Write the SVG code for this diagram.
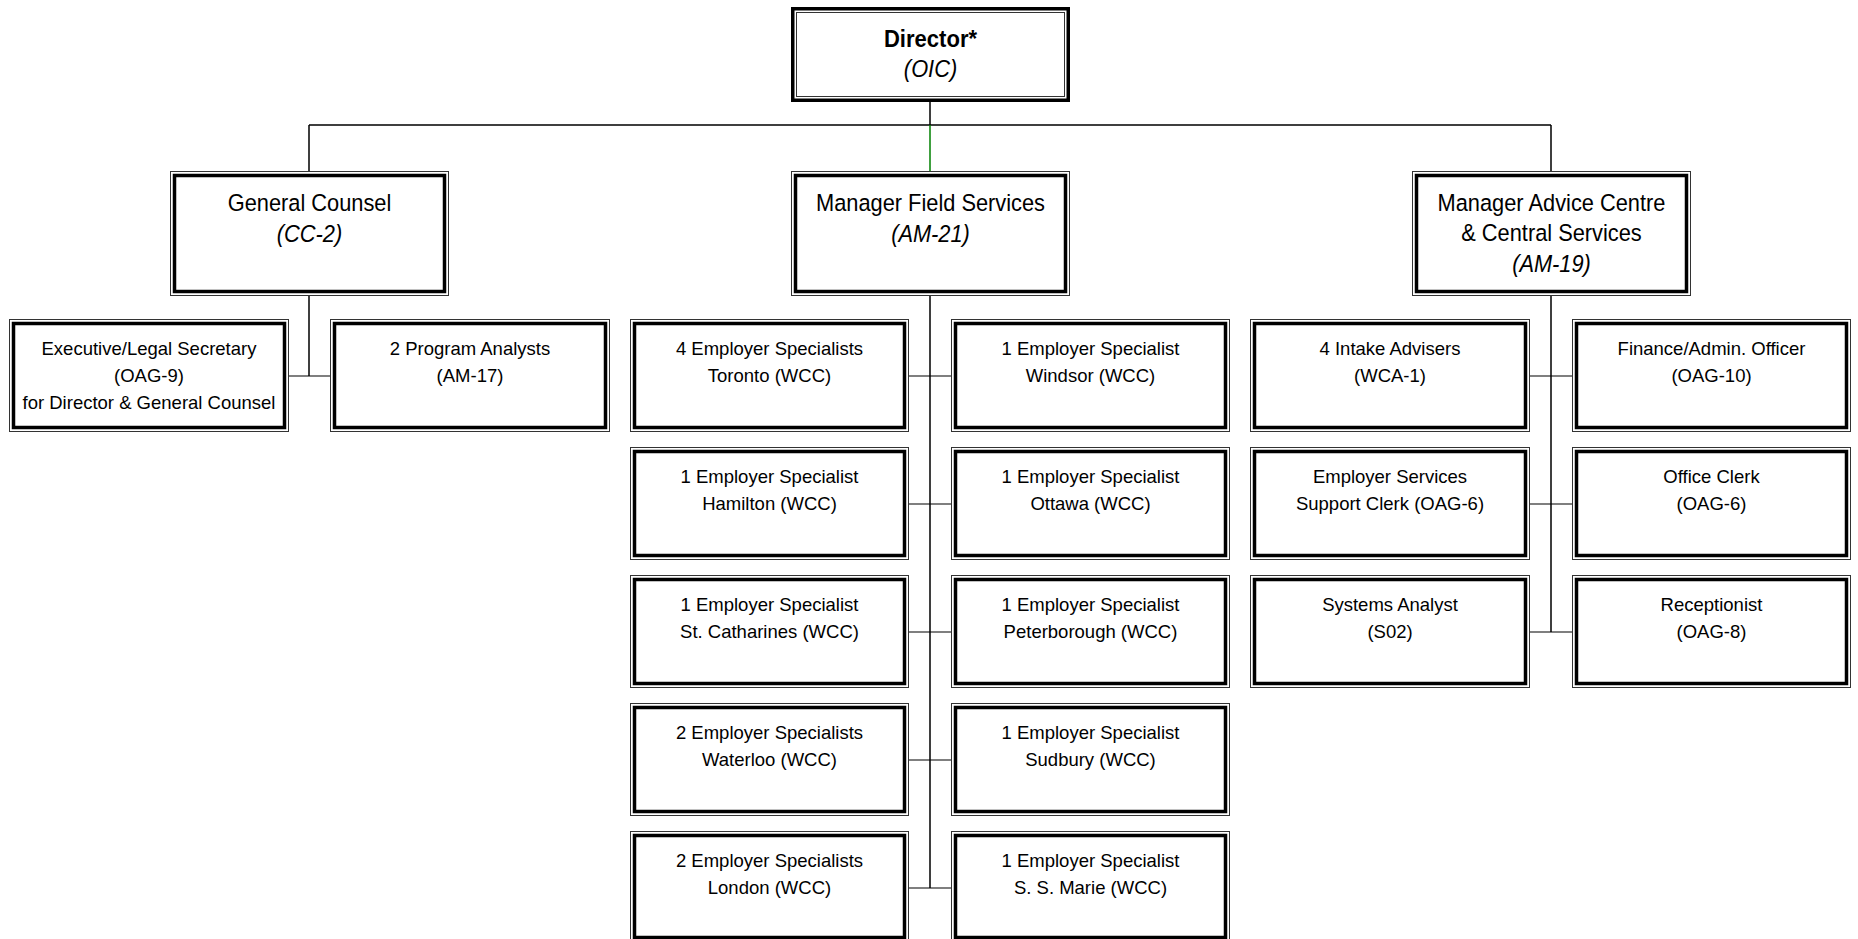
<svg xmlns="http://www.w3.org/2000/svg" width="1858" height="939" viewBox="0 0 1858 939">
<style>
.o{fill:none;stroke:#333;stroke-width:1}
.i{fill:none;stroke:#000;stroke-width:3.5}
.dO{fill:none;stroke:#000;stroke-width:3.5}
.dI{fill:none;stroke:#333;stroke-width:1}
.bg{fill:#fff;stroke:none}
text{font-family:"Liberation Sans",Arial,sans-serif;fill:#000;text-anchor:middle}
.t2{font-size:24.5px}
.t3{font-size:18.5px}
.b{font-weight:bold}
.it{font-style:italic}
.c{fill:none;stroke:#000;stroke-width:1.5}
.j{fill:none;stroke:#000;stroke-width:1.2}
.g{fill:none;stroke:#008000;stroke-width:1.5}
</style>
<rect width="1858" height="939" fill="#fff"/>
<g id="connectors">
<path class="c" d="M930 102V125M309 125H1551M309 125V171M1551 125V171"/>
<path class="g" d="M930 125V171"/>
<path class="c" d="M309 296V376M930 296V888M1551 296V632"/>
<path class="j" d="M289 376H330M909 376H951M909 504H951M909 632H951M909 760H951M909 888H951M1530 376H1572M1530 504H1572M1530 632H1572"/>
</g>
<g id="director">
<rect class="bg" x="791" y="7" width="279" height="95"/>
<rect class="dO" x="792.75" y="8.75" width="275.5" height="91.5"/>
<rect class="dI" x="796.5" y="12.5" width="268" height="84"/>
<text class="t2 b" transform="translate(930.5 0) scale(0.9 1)" y="47">Director*</text>
<text class="t2 it" transform="translate(930.5 0) scale(0.89 1)" y="77">(OIC)</text>
</g>
<g id="general-counsel">
<rect class="o" x="170.5" y="171.5" width="278" height="124"/>
<rect class="i" x="174.5" y="175.5" width="270" height="116"/>
<text class="t2" transform="translate(309.5 0) scale(0.89 1)" y="211">General Counsel</text>
<text class="t2 it" transform="translate(309.5 0) scale(0.89 1)" y="242">(CC-2)</text>
</g>
<g id="manager-field-services">
<rect class="o" x="791.5" y="171.5" width="278" height="124"/>
<rect class="i" x="795.5" y="175.5" width="270" height="116"/>
<text class="t2" transform="translate(930.5 0) scale(0.89 1)" y="211">Manager Field Services</text>
<text class="t2 it" transform="translate(930.5 0) scale(0.89 1)" y="242">(AM-21)</text>
</g>
<g id="manager-advice-centre">
<rect class="o" x="1412.5" y="171.5" width="278" height="124"/>
<rect class="i" x="1416.5" y="175.5" width="270" height="116"/>
<text class="t2" transform="translate(1551.5 0) scale(0.89 1)" y="211">Manager Advice Centre</text>
<text class="t2" transform="translate(1551.5 0) scale(0.89 1)" y="241.5">&amp; Central Services</text>
<text class="t2 it" transform="translate(1551.5 0) scale(0.89 1)" y="272">(AM-19)</text>
</g>
<g id="exec-legal-secretary">
<rect class="o" x="9.5" y="319.5" width="279" height="112"/>
<rect class="i" x="13.5" y="323.5" width="271" height="104"/>
<text class="t3" x="149" y="355">Executive/Legal Secretary</text>
<text class="t3" x="149" y="382">(OAG-9)</text>
<text class="t3" x="149" y="409">for Director &amp; General Counsel</text>
</g>
<g id="program-analysts">
<rect class="o" x="330.5" y="319.5" width="279" height="112"/>
<rect class="i" x="334.5" y="323.5" width="271" height="104"/>
<text class="t3" x="470" y="355">2 Program Analysts</text>
<text class="t3" x="470" y="382">(AM-17)</text>
</g>
<g id="toronto">
<rect class="o" x="630.5" y="319.5" width="278" height="112"/>
<rect class="i" x="634.5" y="323.5" width="270" height="104"/>
<text class="t3" x="769.5" y="355">4 Employer Specialists</text>
<text class="t3" x="769.5" y="382">Toronto (WCC)</text>
</g>
<g id="windsor">
<rect class="o" x="951.5" y="319.5" width="278" height="112"/>
<rect class="i" x="955.5" y="323.5" width="270" height="104"/>
<text class="t3" x="1090.5" y="355">1 Employer Specialist</text>
<text class="t3" x="1090.5" y="382">Windsor (WCC)</text>
</g>
<g id="hamilton">
<rect class="o" x="630.5" y="447.5" width="278" height="112"/>
<rect class="i" x="634.5" y="451.5" width="270" height="104"/>
<text class="t3" x="769.5" y="483">1 Employer Specialist</text>
<text class="t3" x="769.5" y="510">Hamilton (WCC)</text>
</g>
<g id="ottawa">
<rect class="o" x="951.5" y="447.5" width="278" height="112"/>
<rect class="i" x="955.5" y="451.5" width="270" height="104"/>
<text class="t3" x="1090.5" y="483">1 Employer Specialist</text>
<text class="t3" x="1090.5" y="510">Ottawa (WCC)</text>
</g>
<g id="st-catharines">
<rect class="o" x="630.5" y="575.5" width="278" height="112"/>
<rect class="i" x="634.5" y="579.5" width="270" height="104"/>
<text class="t3" x="769.5" y="611">1 Employer Specialist</text>
<text class="t3" x="769.5" y="638">St. Catharines (WCC)</text>
</g>
<g id="peterborough">
<rect class="o" x="951.5" y="575.5" width="278" height="112"/>
<rect class="i" x="955.5" y="579.5" width="270" height="104"/>
<text class="t3" x="1090.5" y="611">1 Employer Specialist</text>
<text class="t3" x="1090.5" y="638">Peterborough (WCC)</text>
</g>
<g id="waterloo">
<rect class="o" x="630.5" y="703.5" width="278" height="112"/>
<rect class="i" x="634.5" y="707.5" width="270" height="104"/>
<text class="t3" x="769.5" y="739">2 Employer Specialists</text>
<text class="t3" x="769.5" y="766">Waterloo (WCC)</text>
</g>
<g id="sudbury">
<rect class="o" x="951.5" y="703.5" width="278" height="112"/>
<rect class="i" x="955.5" y="707.5" width="270" height="104"/>
<text class="t3" x="1090.5" y="739">1 Employer Specialist</text>
<text class="t3" x="1090.5" y="766">Sudbury (WCC)</text>
</g>
<g id="london">
<rect class="o" x="630.5" y="831.5" width="278" height="112"/>
<rect class="i" x="634.5" y="835.5" width="270" height="102"/>
<text class="t3" x="769.5" y="867">2 Employer Specialists</text>
<text class="t3" x="769.5" y="894">London (WCC)</text>
</g>
<g id="ss-marie">
<rect class="o" x="951.5" y="831.5" width="278" height="112"/>
<rect class="i" x="955.5" y="835.5" width="270" height="102"/>
<text class="t3" x="1090.5" y="867">1 Employer Specialist</text>
<text class="t3" x="1090.5" y="894">S. S. Marie (WCC)</text>
</g>
<g id="intake-advisers">
<rect class="o" x="1250.5" y="319.5" width="279" height="112"/>
<rect class="i" x="1254.5" y="323.5" width="271" height="104"/>
<text class="t3" x="1390" y="355">4 Intake Advisers</text>
<text class="t3" x="1390" y="382">(WCA-1)</text>
</g>
<g id="finance-admin">
<rect class="o" x="1572.5" y="319.5" width="278" height="112"/>
<rect class="i" x="1576.5" y="323.5" width="270" height="104"/>
<text class="t3" x="1711.5" y="355">Finance/Admin. Officer</text>
<text class="t3" x="1711.5" y="382">(OAG-10)</text>
</g>
<g id="employer-services-clerk">
<rect class="o" x="1250.5" y="447.5" width="279" height="112"/>
<rect class="i" x="1254.5" y="451.5" width="271" height="104"/>
<text class="t3" x="1390" y="483">Employer Services</text>
<text class="t3" x="1390" y="510">Support Clerk (OAG-6)</text>
</g>
<g id="office-clerk">
<rect class="o" x="1572.5" y="447.5" width="278" height="112"/>
<rect class="i" x="1576.5" y="451.5" width="270" height="104"/>
<text class="t3" x="1711.5" y="483">Office Clerk</text>
<text class="t3" x="1711.5" y="510">(OAG-6)</text>
</g>
<g id="systems-analyst">
<rect class="o" x="1250.5" y="575.5" width="279" height="112"/>
<rect class="i" x="1254.5" y="579.5" width="271" height="104"/>
<text class="t3" x="1390" y="611">Systems Analyst</text>
<text class="t3" x="1390" y="638">(S02)</text>
</g>
<g id="receptionist">
<rect class="o" x="1572.5" y="575.5" width="278" height="112"/>
<rect class="i" x="1576.5" y="579.5" width="270" height="104"/>
<text class="t3" x="1711.5" y="611">Receptionist</text>
<text class="t3" x="1711.5" y="638">(OAG-8)</text>
</g>
</svg>
